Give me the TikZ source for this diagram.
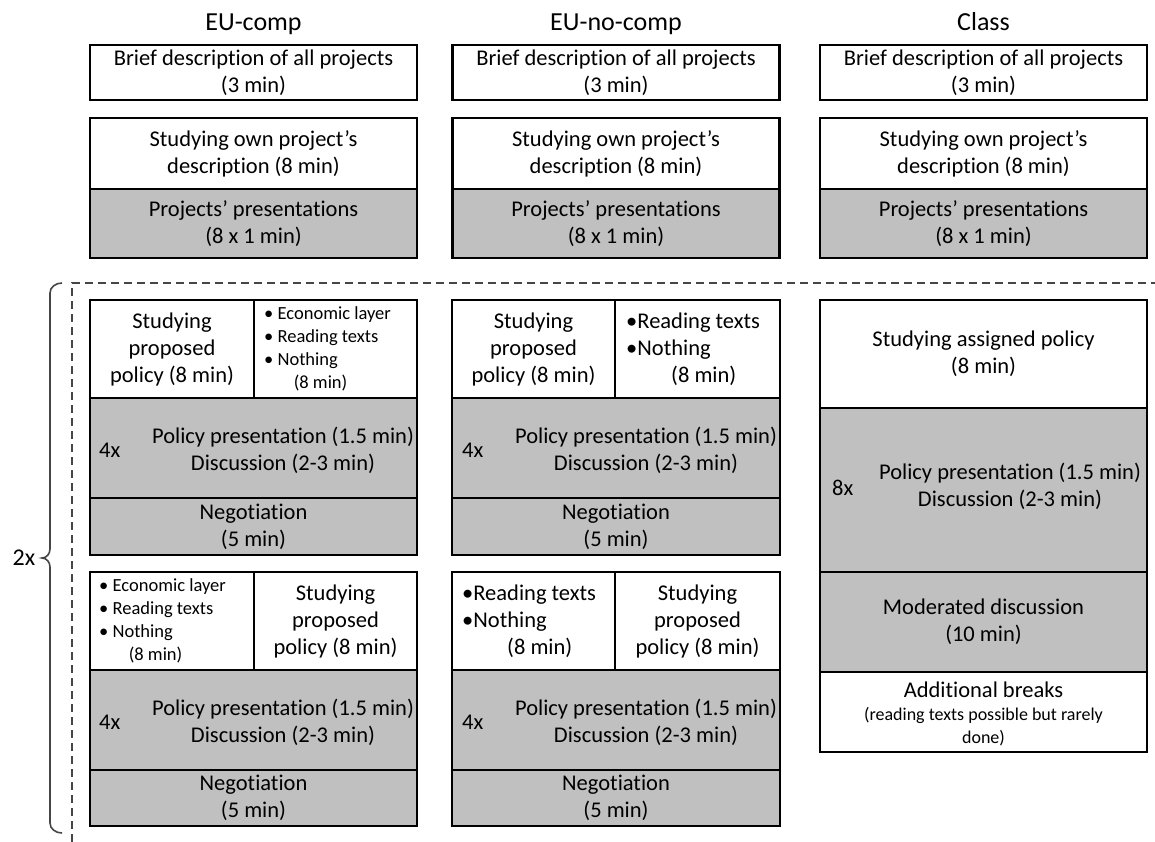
\documentclass[tikz,border=0pt]{standalone}
\usepackage{fontspec}
\setmainfont{Carlito}[Ligatures=NoCommon]
\definecolor{cellgray}{RGB}{192,192,192}
\definecolor{dashgray}{RGB}{70,70,70}
\begin{document}
\begin{tikzpicture}[x=1pt,y=-1pt,
  cell/.style={draw=black, line width=2.6pt, inner sep=0pt, font=\fontsize{22.5}{27}\selectfont, align=center},
  wcell/.style={cell, fill=white},
  gcell/.style={cell, fill=cellgray},
  txt/.style={inner sep=0pt, font=\fontsize{22.5}{27}\selectfont, align=center},
  ltxt/.style={inner sep=0pt, font=\fontsize{22.5}{27}\selectfont, align=left},
  small/.style={inner sep=0pt, font=\fontsize{18.5}{23}\selectfont, align=left},
  coltitle/.style={inner sep=0pt, font=\fontsize{26}{30}\selectfont, anchor=base},
  dashline/.style={draw=dashgray, line width=1.8pt, dash pattern=on 8pt off 5pt},
  bracestyle/.style={draw=dashgray, line width=1.6pt},
]
\useasboundingbox (0,0) rectangle (1155,842);

% titles
\node[coltitle] (t1) at (253.5,31) {EU-comp};
\node[coltitle] (t2) at (616,31) {EU-no-comp};
\node[coltitle] (t3) at (983.5,31) {Class};

% top section, three columns
\foreach \cx/\nm in {253.5/a, 616/b, 983.5/c}{
  \node[wcell, minimum width=327pt, minimum height=55pt] (\nm brief) at (\cx,72.5) {Brief description of all projects\\(3 min)};
  \node[wcell, minimum width=327pt, minimum height=71pt] (\nm own) at (\cx,153.5) {Studying own project’s\\description (8 min)};
  \node[gcell, minimum width=327pt, minimum height=69pt] (\nm pres) at (\cx,223.5) {Projects’ presentations\\(8 x 1 min)};
}

% dashed frame and brace
\coordinate (dl) at (72,283);
\coordinate (dr) at (1155,283);
\coordinate (db) at (72,842);
\draw[dashline] (db) -- (dl) -- (dr);
\node[inner sep=0pt, font=\fontsize{24}{28}\selectfont] (rep) at (24,558) {2x};
\draw[bracestyle] (62,283) to[out=180,in=90] (50,293) -- (50,549) to[out=-90,in=0] (42,558) to[out=0,in=90] (50,567) -- (50,823) to[out=-90,in=180] (62,833);

% ---------- EU-comp, round 1
\node[wcell, minimum width=164pt, minimum height=98pt] (a1stud) at (172,349) {Studying\\proposed\\policy (8 min)};
\node[wcell, minimum width=163pt, minimum height=98pt] (a1opt) at (335.5,349) {};
\node[small, anchor=west] (a1list) at (264,349) {\textbullet\ Economic layer\\\textbullet\ Reading texts\\\textbullet\ Nothing\\\hspace*{1.6em}(8 min)};
\node[gcell, minimum width=327pt, minimum height=100pt] (a1pol) at (253.5,448) {};
\node[txt] (a1poltxt) at (283,450) {Policy presentation (1.5 min)\\Discussion (2-3 min)};
\node[txt, anchor=west] (a1rep) at (99,450) {4x};
\node[gcell, minimum width=327pt, minimum height=57pt] (a1neg) at (253.5,526.5) {Negotiation\\(5 min)};

% ---------- EU-comp, round 2
\node[wcell, minimum width=164pt, minimum height=98pt] (a2opt) at (172,621) {};
\node[small, anchor=west] (a2list) at (99,621) {\textbullet\ Economic layer\\\textbullet\ Reading texts\\\textbullet\ Nothing\\\hspace*{1.6em}(8 min)};
\node[wcell, minimum width=163pt, minimum height=98pt] (a2stud) at (335.5,621) {Studying\\proposed\\policy (8 min)};
\node[gcell, minimum width=327pt, minimum height=100pt] (a2pol) at (253.5,720) {};
\node[txt] (a2poltxt) at (283,722) {Policy presentation (1.5 min)\\Discussion (2-3 min)};
\node[txt, anchor=west] (a2rep) at (99,722) {4x};
\node[gcell, minimum width=327pt, minimum height=56pt] (a2neg) at (253.5,798) {Negotiation\\(5 min)};

% ---------- EU-no-comp, round 1
\node[wcell, minimum width=163pt, minimum height=98pt] (b1stud) at (533.5,349) {Studying\\proposed\\policy (8 min)};
\node[wcell, minimum width=165pt, minimum height=98pt] (b1opt) at (697.5,349) {};
\node[ltxt, anchor=west] (b1list) at (626,349) {\textbullet Reading texts\\\textbullet Nothing\\\hspace*{2.0em}(8 min)};
\node[gcell, minimum width=328pt, minimum height=100pt] (b1pol) at (616,448) {};
\node[txt] (b1poltxt) at (646,450) {Policy presentation (1.5 min)\\Discussion (2-3 min)};
\node[txt, anchor=west] (b1rep) at (462,450) {4x};
\node[gcell, minimum width=328pt, minimum height=57pt] (b1neg) at (616,526.5) {Negotiation\\(5 min)};

% ---------- EU-no-comp, round 2
\node[wcell, minimum width=163pt, minimum height=98pt] (b2opt) at (533.5,621) {};
\node[ltxt, anchor=west] (b2list) at (462,621) {\textbullet Reading texts\\\textbullet Nothing\\\hspace*{2.0em}(8 min)};
\node[wcell, minimum width=165pt, minimum height=98pt] (b2stud) at (697.5,621) {Studying\\proposed\\policy (8 min)};
\node[gcell, minimum width=328pt, minimum height=100pt] (b2pol) at (616,720) {};
\node[txt] (b2poltxt) at (646,722) {Policy presentation (1.5 min)\\Discussion (2-3 min)};
\node[txt, anchor=west] (b2rep) at (462,722) {4x};
\node[gcell, minimum width=328pt, minimum height=56pt] (b2neg) at (616,798) {Negotiation\\(5 min)};

% ---------- Class
\node[wcell, minimum width=327pt, minimum height=108pt] (cstud) at (983.5,354) {Studying assigned policy\\(8 min)};
\node[gcell, minimum width=327pt, minimum height=164pt] (cpol) at (983.5,490) {};
\node[txt] (cpoltxt) at (1010,486) {Policy presentation (1.5 min)\\Discussion (2-3 min)};
\node[txt, anchor=west] (crep) at (832,488) {8x};
\node[gcell, minimum width=327pt, minimum height=100pt] (cmod) at (983.5,622) {Moderated discussion\\(10 min)};
\node[wcell, minimum width=327pt, minimum height=80pt] (cbrk) at (983.5,712) {};
\node[txt, anchor=base] (cbrktxt) at (983.5,697) {Additional breaks};
\node[inner sep=0pt, font=\fontsize{18}{23}\selectfont, align=center, anchor=north] (cbrknote) at (983.5,707) {(reading texts possible but rarely\\done)};
\end{tikzpicture}
\end{document}
